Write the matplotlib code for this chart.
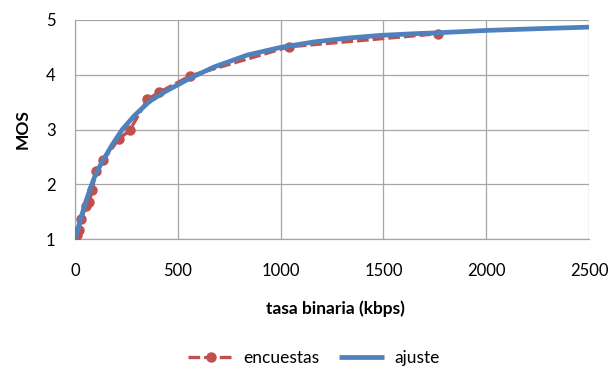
import matplotlib
matplotlib.use("Agg")
import matplotlib.pyplot as plt

# encuestas (survey points)
enc_x = [8, 18, 30, 55, 70, 83, 102, 138, 212, 267, 352, 410, 560, 1040, 1767]
enc_y = [1.08, 1.17, 1.37, 1.60, 1.68, 1.90, 2.24, 2.44, 2.82, 2.99, 3.55, 3.68, 3.98, 4.51, 4.75]

# ajuste (fitted curve)
fit_x = [0, 5, 26, 50, 75, 99, 132, 181, 230, 288, 361, 442, 512, 561, 675, 838,
         1000, 1163, 1326, 1489, 1652, 1783, 2005, 2240, 2500]
fit_y = [1.00, 1.05, 1.35, 1.65, 1.93, 2.17, 2.41, 2.72, 3.00, 3.25, 3.51, 3.70, 3.84,
         3.94, 4.14, 4.36, 4.50, 4.60, 4.67, 4.72, 4.75, 4.77, 4.81, 4.84, 4.87]

x_ticks = [0, 500, 1000, 1500, 2000, 2500]
y_ticks = [1, 2, 3, 4, 5]

RED = "#C0504D"
BLUE = "#4F81BD"
GRID = "#A6A6A6"

plt.rcParams['font.family'] = ['Lato', 'DejaVu Sans']

fig = plt.figure(figsize=(6.13, 3.71), dpi=100)
ax = fig.add_axes([75/613, 1-239/371, (589-75)/613, (239-20)/371])

l1, = ax.plot(enc_x, enc_y, color=RED, lw=2.4, ls=(0, (3.5, 1.2)), marker='o', ms=6.5,
              mec=RED, mfc=RED, label='encuestas', zorder=3)
l2, = ax.plot(fit_x, fit_y, color=BLUE, lw=3.4, solid_capstyle='butt',
              solid_joinstyle='round', label='ajuste', zorder=4)

ax.set_xlim(0, 2500)
ax.set_ylim(1, 5)
ax.set_xticks(x_ticks)
ax.set_yticks(y_ticks)
ax.grid(True, color=GRID, lw=0.9)
ax.set_axisbelow(True)
for s in ['top', 'right']:
    ax.spines[s].set_visible(False)
for s in ['left', 'bottom']:
    ax.spines[s].set_color(GRID)
    ax.spines[s].set_linewidth(0.9)
ax.tick_params(axis='both', length=0, labelsize=12, colors='#000000')
ax.tick_params(axis='x', pad=17)
ax.tick_params(axis='y', pad=14)

fig.text(22.5/613, 1-129/371, 'MOS', rotation=90, ha='center', va='center',
         fontsize=12.5, fontweight='bold')
fig.text(335/613, 1-309/371, 'tasa binaria (kbps)', ha='center', va='center',
         fontsize=12.5, fontweight='bold')

fig.legend(handles=[l1, l2], loc='center', bbox_to_anchor=(314/613, 1-358/371),
           ncol=2, frameon=False, fontsize=12.5, handlelength=2.6, handletextpad=0.6,
           columnspacing=1.1)

fig.savefig('out.png', dpi=100)
